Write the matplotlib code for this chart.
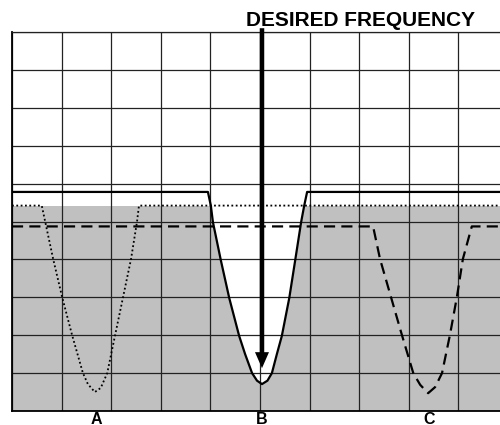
import matplotlib
matplotlib.use("Agg")
import matplotlib.pyplot as plt
import numpy as np

# ---- data (grid units: x = frequency divisions, y = amplitude divisions) ----
gray_level = 5.42          # shaded (noise) region top
solid_level = 5.78         # flat level of curve B

curve_b_x = [0.0, 3.95, 4.01, 4.05, 4.21, 4.38, 4.58, 4.70, 4.84, 4.94, 5.04,
             5.15, 5.24, 5.34, 5.44, 5.59, 5.71, 5.83, 5.89, 5.95, 10.0]
curve_b_y = [5.78, 5.78, 5.41, 4.99, 3.98, 2.98, 1.98, 1.50, 1.00, 0.80, 0.71,
             0.80, 1.00, 1.50, 1.98, 2.98, 3.98, 4.99, 5.41, 5.78, 5.78]

curve_a_x = [0.0, 0.60, 0.67, 0.83, 1.01, 1.21, 1.43, 1.53, 1.67, 1.79, 1.92,
             2.08, 2.24, 2.40, 2.52, 2.56, 10.0]
curve_a_y = [5.42, 5.42, 4.99, 4.01, 3.01, 2.01, 1.00, 0.71, 0.50, 0.61, 1.00,
             2.01, 3.01, 4.01, 4.99, 5.42, 5.42]

curve_c_x = [0.0, 7.28, 7.42, 7.64, 7.86, 8.09, 8.23, 8.39, 8.53, 8.67, 8.83,
             8.97, 9.09, 9.27, 10.0]
curve_c_y = [4.87, 4.87, 4.01, 3.01, 2.01, 1.00, 0.69, 0.47, 0.63, 1.00, 2.01,
             3.01, 4.01, 4.87, 4.87]

arrow_x = 5.04
arrow_top = 10.1
arrow_tip = 1.13

label_names = ["A", "B", "C"]
label_x = [1.71, 5.04, 8.41]

title_text = "DESIRED FREQUENCY"

# ---- figure ----
W, H = 500, 425
fig = plt.figure(figsize=(W / 100, H / 100), dpi=100)
fig.patch.set_facecolor("white")

left_px, top_px, bottom_px = 12, 32, 411
col_px = 49.6
xmax = (W - left_px) / col_px
ax = fig.add_axes([left_px / W, (H - bottom_px) / H, (W - left_px) / W,
                   (bottom_px - top_px) / H])
ax.set_xlim(0, xmax)
ax.set_ylim(0, 10)

# shaded region, with curve B cut out of it
ax.fill_between([0, xmax], 0, gray_level, color="#c0c0c0", lw=0, zorder=1)
by = np.array(curve_b_y)
ax.fill_between(curve_b_x, by, gray_level, where=by < gray_level,
                interpolate=True, color="white", lw=0, zorder=1.1)

# grid
ax.set_xticks(np.arange(0, 10))
ax.set_yticks(np.arange(0, 11))
ax.tick_params(length=0, labelbottom=False, labelleft=False)
ax.set_axisbelow("line")
ax.grid(True, color="#222222", lw=0.9)
for s in ["left", "bottom"]:
    ax.spines[s].set_linewidth(1.3)
    ax.spines[s].set_color("black")
ax.spines["top"].set_linewidth(0.9)
ax.spines["top"].set_color("#222222")
ax.spines["right"].set_visible(False)

# curves
ax.plot(curve_b_x, curve_b_y, color="black", lw=1.6, zorder=3,
        solid_joinstyle="round")
ax.plot(curve_a_x, curve_a_y, color="black", lw=1.3, zorder=3,
        linestyle=(0, (1.0, 1.4)))
ax.plot(curve_c_x, curve_c_y, color="black", lw=1.6, zorder=3,
        linestyle=(0, (5.0, 2.8)))

# arrow
ax.arrow(arrow_x, arrow_top, 0, arrow_tip - arrow_top,
         width=4.5 / col_px, head_width=14 / col_px, head_length=16 / 37.9,
         length_includes_head=True, color="black", lw=0, zorder=4,
         clip_on=False)

# texts
fig.text(361 / W, 1 - 26 / H, title_text, ha="center", va="baseline",
         fontsize=15, fontweight="bold", family="Liberation Sans")
label_base = (bottom_px - 423.5) / (bottom_px - top_px)
for name, lx in zip(label_names, label_x):
    ax.text(lx, label_base, name, ha="center", va="baseline", fontsize=11.5,
            fontweight="bold", family="Liberation Sans",
            transform=ax.get_xaxis_transform(), clip_on=False)

fig.savefig("out.png", dpi=100)
